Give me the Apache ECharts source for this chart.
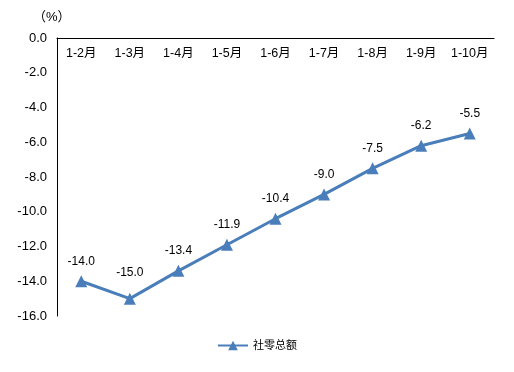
<!DOCTYPE html>
<html><head><meta charset="utf-8">
<script src="https://cdn.jsdelivr.net/npm/echarts@6/dist/echarts.min.js"></script>
<style>html,body{margin:0;padding:0;background:#fff}#c{width:514px;height:372px}</style>
</head><body><div id="c"></div>
<script>
const categories = ['1-2月','1-3月','1-4月','1-5月','1-6月','1-7月','1-8月','1-9月','1-10月'];
const values = [-14.0,-15.0,-13.4,-11.9,-10.4,-9.0,-7.5,-6.2,-5.5];
const seriesName = '社零总额';
const unitLabel = '（%）';
const chart = echarts.init(document.getElementById('c'));
const font = '"Liberation Sans", "Noto Sans CJK SC", sans-serif';
const data = values.map((v,i)=> i===1 ? {value:v,label:{distance:14}} : v);
chart.setOption({
  animation:false,
  textStyle:{fontFamily:font},
  title:{text:unitLabel,left:28,top:6,textStyle:{fontSize:13,fontWeight:'normal',color:'#000',fontFamily:font}},
  grid:{left:57,right:20,top:38,bottom:56},
  legend:{bottom:16,left:'center',itemWidth:30,itemHeight:12,itemGap:4,textStyle:{fontSize:11,color:'#000',fontFamily:font},data:[seriesName]},
  xAxis:{type:'category',data:categories,position:'top',boundaryGap:true,
    axisLine:{lineStyle:{color:'#000',width:1}},axisTick:{show:false},
    axisLabel:{inside:true,interval:0,hideOverlap:false,margin:9,fontSize:12.5,color:'#000',fontFamily:font},splitLine:{show:false}},
  yAxis:{type:'value',min:-16,max:0,interval:2,
    axisLine:{show:true,lineStyle:{color:'#000',width:1}},axisTick:{show:false},splitLine:{show:false},
    axisLabel:{fontSize:13,color:'#000',margin:10,fontFamily:font,formatter:v=>v.toFixed(1)}},
  series:[{name:seriesName,type:'line',data:data,symbol:'triangle',symbolSize:12,
    lineStyle:{color:'#4a7ebb',width:3},itemStyle:{color:'#4a7ebb'},
    label:{show:true,position:'top',distance:8,fontSize:12,color:'#000',fontFamily:font,formatter:p=>p.value.toFixed(1)}}]
});
</script></body></html>
